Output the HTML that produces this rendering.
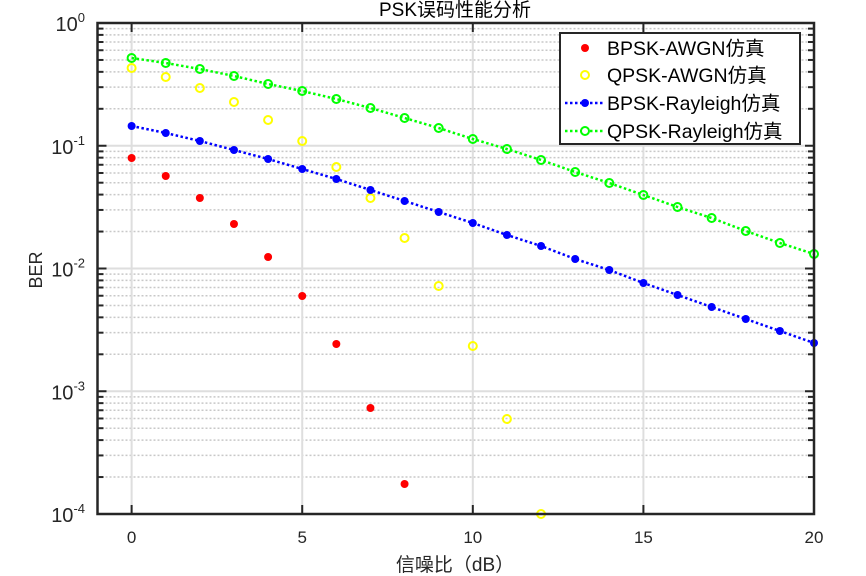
<!DOCTYPE html>
<html><head><meta charset="utf-8"><style>
html,body{margin:0;padding:0;background:#fff;width:866px;height:576px;overflow:hidden}
text{font-family:"Liberation Sans","Noto Sans CJK SC",sans-serif;fill:#262626}
</style></head><body>
<svg id="s" width="866" height="576" xmlns="http://www.w3.org/2000/svg"></svg>
<script>
const s=document.getElementById('s');
const L=97.5,R=814,T=23,B=514,D=122.75;
const X=v=>L+(v+1)*(R-L)/21;
const Y=p=>T+(-Math.log10(p))*D;
let h='';
for(let d=0;d<4;d++)for(let k=2;k<=9;k++){const y=Y(k*Math.pow(10,-d-1));
h+=`<line x1="${L}" x2="${R}" y1="${y}" y2="${y}" stroke="#c8c8c8" stroke-width="1.5" stroke-dasharray="2,2"/>`;
h+=`<line x1="${L}" x2="${L+6}" y1="${y}" y2="${y}" stroke="#262626" stroke-width="2"/><line x1="${R-6}" x2="${R}" y1="${y}" y2="${y}" stroke="#262626" stroke-width="2"/>`;}
for(let d=1;d<4;d++){const y=T+d*D;h+=`<line x1="${L}" x2="${R}" y1="${y}" y2="${y}" stroke="#dedede" stroke-width="2"/>`;
h+=`<line x1="${L}" x2="${L+9}" y1="${y}" y2="${y}" stroke="#262626" stroke-width="2"/><line x1="${R-9}" x2="${R}" y1="${y}" y2="${y}" stroke="#262626" stroke-width="2"/>`;}
for(let v=0;v<=20;v+=5){const x=X(v);h+=`<line x1="${x}" x2="${x}" y1="${T}" y2="${B}" stroke="#dedede" stroke-width="2"/>`;
h+=`<line x1="${x}" x2="${x}" y1="${B}" y2="${B-9}" stroke="#262626" stroke-width="2"/><line x1="${x}" x2="${x}" y1="${T}" y2="${T+9}" stroke="#262626" stroke-width="2"/>`;
h+=`<text x="${x}" y="543" font-size="17" text-anchor="middle">${v}</text>`;}
for(let d=0;d<=4;d++){const y=T+d*D;h+=`<text x="85" y="${y+8}" font-size="20" text-anchor="end">10<tspan dy="-9" font-size="13">${d?'-'+d:'0'}</tspan></text>`;}
const red=[158,176,198,224,257,296,344,408,484];
const yel=[68,77,88,102,120,141,167,198,238,286,346,419,514];
const blu=[126,133,141,150,159,169,179,190,201,212,223,235,246,259,270,283,295,307,319,331,343];
const grn=[58,63,69,76,84,91,99,108,118,128,139,149,160,172,183,195,207,218,231,243,254];
h+=`<polyline fill="none" stroke="#0000ff" stroke-width="2.5" stroke-dasharray="2.5,2.5" points="${blu.map((y,i)=>X(i)+','+y).join(' ')}"/>`;
h+=`<polyline fill="none" stroke="#00ff00" stroke-width="2.5" stroke-dasharray="2.5,2.5" points="${grn.map((y,i)=>X(i)+','+y).join(' ')}"/>`;
red.forEach((y,i)=>h+=`<circle cx="${X(i)}" cy="${y}" r="4" fill="#ff0000"/>`);
yel.forEach((y,i)=>h+=`<circle cx="${X(i)}" cy="${y}" r="4" fill="none" stroke="#ffff00" stroke-width="2"/>`);
blu.forEach((y,i)=>h+=`<circle cx="${X(i)}" cy="${y}" r="4" fill="#0000ff"/>`);
grn.forEach((y,i)=>h+=`<circle cx="${X(i)}" cy="${y}" r="4" fill="none" stroke="#00ff00" stroke-width="2"/>`);
h+=`<rect x="${L}" y="${T}" width="${R-L}" height="${B-T}" fill="none" stroke="#262626" stroke-width="2.5"/>`;
h+=`<rect x="560" y="33" width="240" height="111" fill="#fff" stroke="#262626" stroke-width="2"/>`;
const ly=[48,75,103,131];
h+=`<circle cx="585" cy="${ly[0]}" r="4" fill="#ff0000"/>`;
h+=`<circle cx="585" cy="${ly[1]}" r="4" fill="none" stroke="#ffff00" stroke-width="2"/>`;
h+=`<line x1="565" x2="605" y1="${ly[2]}" y2="${ly[2]}" stroke="#0000ff" stroke-width="2.5" stroke-dasharray="2.5,2.5"/><circle cx="585" cy="${ly[2]}" r="4" fill="#0000ff"/>`;
h+=`<line x1="565" x2="605" y1="${ly[3]}" y2="${ly[3]}" stroke="#00ff00" stroke-width="2.5" stroke-dasharray="2.5,2.5"/><circle cx="585" cy="${ly[3]}" r="4" fill="#fff" stroke="#00ff00" stroke-width="2"/>`;
['BPSK-AWGN仿真','QPSK-AWGN仿真','BPSK-Rayleigh仿真','QPSK-Rayleigh仿真'].forEach((t,i)=>h+=`<text x="607" y="${ly[i]+7}" font-size="19.5" style="fill:#000">${t}</text>`);
h+=`<text x="455" y="16" font-size="19" text-anchor="middle" style="fill:#000">PSK误码性能分析</text>`;
h+=`<text x="455" y="571" font-size="19" text-anchor="middle">信噪比（dB）</text>`;
h+=`<text transform="translate(42,270) rotate(-90)" font-size="18" text-anchor="middle">BER</text>`;
s.innerHTML=h;
</script>
</body></html>
